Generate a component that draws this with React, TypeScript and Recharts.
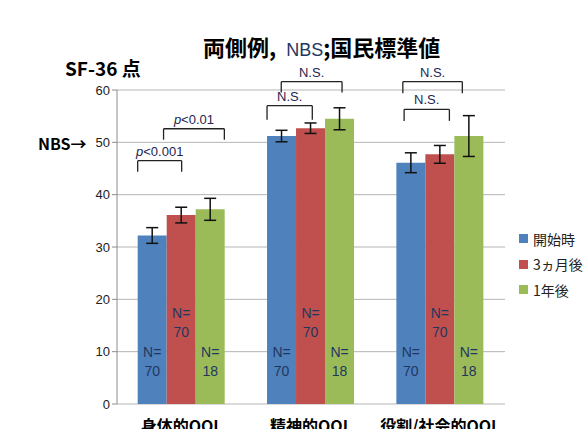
import { BarChart, Bar, XAxis, YAxis, CartesianGrid, ErrorBar, LabelList, ReferenceLine } from 'recharts';

const categories = ['身体的QOL', '精神的QOL', '役割/社会的QOL'];
const startScore = [32.2, 51.2, 46.1];
const startErr = [1.5, 1.1, 1.9];
const month3Score = [36.1, 52.7, 47.7];
const month3Err = [1.5, 1.0, 1.7];
const year1Score = [37.2, 54.5, 51.2];
const year1Err = [2.1, 2.1, 3.9];
const startN = [70, 70, 70];
const month3N = [70, 70, 70];
const year1N = [18, 18, 18];
const yTicks = [0, 10, 20, 30, 40, 50, 60];

// significance brackets, x in category units (0..3), y in score units
const bracketLabels = ['p<0.001', 'p<0.01', 'N.S.', 'N.S.', 'N.S.', 'N.S.'];
const bracketStart = [0.16, 0.36, 1.27, 1.16, 2.21, 2.22];
const bracketEnd = [0.5, 0.83, 1.74, 1.51, 2.67, 2.57];
const bracketTop = [46.5, 52.6, 61.6, 57.0, 61.6, 56.3];
const bracketFoot = [44.4, 50.5, 59.5, 54.3, 59.4, 54.1];

const series = [
  { key: 'start', name: '開始時', color: '#4F81BD', n: 'startN', err: 'startErr', nOffset: 52 },
  { key: 'month3', name: '3ヵ月後', color: '#C0504D', n: 'month3N', err: 'month3Err', nOffset: 91 },
  { key: 'year1', name: '1年後', color: '#9BBB59', n: 'year1N', err: 'year1Err', nOffset: 52 },
];

const data = categories.map((c, i) => ({
  category: c,
  start: startScore[i],
  startErr: startErr[i],
  startN: startN[i],
  month3: month3Score[i],
  month3Err: month3Err[i],
  month3N: month3N[i],
  year1: year1Score[i],
  year1Err: year1Err[i],
  year1N: year1N[i],
}));

const latin = '"Liberation Sans", "Noto Sans CJK JP", sans-serif';
const jp = '"Noto Sans CJK JP", sans-serif';
const noteColor = '#25254f';

const nLabel = (offset: number) => (props: any) => {
  const { x, y, width, height, value } = props;
  const cx = x + width / 2;
  const bottom = y + height;
  return (
    <text x={cx} y={bottom - offset} textAnchor="middle" fontFamily={latin} fontSize={14} fill="#1f3760">
      <tspan x={cx} dy={5}>N=</tspan>
      <tspan x={cx} dy={19}>{value}</tspan>
    </text>
  );
};

const bracketLabel = (text: string) => (props: any) => {
  const vb = props.viewBox || {};
  const cx = vb.x + (vb.width || 0) / 2;
  const isP = text.startsWith('p');
  return (
    <text x={cx} y={vb.y - 5} textAnchor="middle" fontFamily={latin} fontSize={13} fill={noteColor}>
      {isP ? (
        <>
          <tspan fontStyle="italic">p</tspan>
          <tspan>{text.slice(1)}</tspan>
        </>
      ) : (
        text
      )}
    </text>
  );
};

const CategoryTick = (props: any) => {
  const { x, y, payload } = props;
  return (
    <text x={x} y={y + 20} textAnchor="middle" fontFamily={jp} fontSize={16} fontWeight="bold" fill="#000">
      {payload.value}
    </text>
  );
};

const App = () => {
  const brackets = bracketLabels.flatMap((label, i) => [
    <ReferenceLine
      key={`l${i}`}
      xAxisId="num"
      ifOverflow="visible"
      stroke="#222"
      strokeWidth={1.3}
      segment={[{ x: bracketStart[i], y: bracketFoot[i] }, { x: bracketStart[i], y: bracketTop[i] }]}
    />,
    <ReferenceLine
      key={`t${i}`}
      xAxisId="num"
      ifOverflow="visible"
      stroke="#222"
      strokeWidth={1.3}
      segment={[{ x: bracketStart[i], y: bracketTop[i] }, { x: bracketEnd[i], y: bracketTop[i] }]}
      label={{ content: bracketLabel(label) }}
    />,
    <ReferenceLine
      key={`r${i}`}
      xAxisId="num"
      ifOverflow="visible"
      stroke="#222"
      strokeWidth={1.3}
      segment={[{ x: bracketEnd[i], y: bracketTop[i] }, { x: bracketEnd[i], y: bracketFoot[i] }]}
    />,
  ]);

  return (
    <div style={{ position: 'absolute', left: 0, top: 0, width: 587, height: 429, background: '#fff', overflow: 'hidden' }}>
      <BarChart
        width={587}
        height={429}
        data={data}
        margin={{ top: 90, right: 82, bottom: 0, left: 77 }}
        barCategoryGap="16%"
        barGap={0}
      >
        <CartesianGrid vertical={false} stroke="#b5b5b5" />
        <XAxis
          xAxisId="num"
          type="number"
          dataKey="slot"
          domain={[0, 3]}
          allowDataOverflow
          ticks={[0, 1, 2, 3]}
          tickFormatter={() => ''}
          height={0}
          stroke="#8c8c8c"
          tickSize={6}
        />
        <XAxis
          xAxisId="cat"
          dataKey="category"
          axisLine={false}
          tickLine={false}
          height={25}
          tick={<CategoryTick />}
          interval={0}
        />
        <YAxis
          domain={[0, 60]}
          ticks={yTicks}
          width={40}
          stroke="#8c8c8c"
          tickSize={5}
          tick={{ fill: '#222', fontSize: 13, fontFamily: latin }}
          interval={0}
        />
        {series.map((s) => (
          <Bar key={s.key} xAxisId="cat" dataKey={s.key} name={s.name} fill={s.color} isAnimationActive={false}>
            <ErrorBar dataKey={s.err} width={6} stroke="#111" strokeWidth={1.5} />
            <LabelList dataKey={s.n} content={nLabel(s.nOffset)} />
          </Bar>
        ))}
        {brackets}
      </BarChart>

      <div style={{ position: 'absolute', left: 203, top: 30, fontFamily: jp, fontSize: 22, fontWeight: 'bold', whiteSpace: 'nowrap', color: '#000' }}>
        両側例,&nbsp;&nbsp;<span style={{ fontWeight: 'normal', fontFamily: latin, fontSize: 18, color: '#1f3760' }}>NBS</span>;国民標準値
      </div>
      <div style={{ position: 'absolute', left: 65, top: 54, fontFamily: jp, fontSize: 19, fontWeight: 'bold', whiteSpace: 'nowrap' }}>
        SF-36 点
      </div>
      <div style={{ position: 'absolute', left: 38, top: 131, fontFamily: jp, fontSize: 16, fontWeight: 'bold', whiteSpace: 'nowrap' }}>
        NBS→
      </div>
      <div style={{ position: 'absolute', left: 519, top: 226, fontFamily: jp, fontSize: 14, color: '#222' }}>
        {series.map((s) => (
          <div key={s.key} style={{ display: 'flex', alignItems: 'center', height: 25.5, whiteSpace: 'nowrap' }}>
            <span style={{ display: 'inline-block', width: 9, height: 9, background: s.color, marginRight: 5 }} />
            {s.name}
          </div>
        ))}
      </div>
    </div>
  );
};

export default App;
